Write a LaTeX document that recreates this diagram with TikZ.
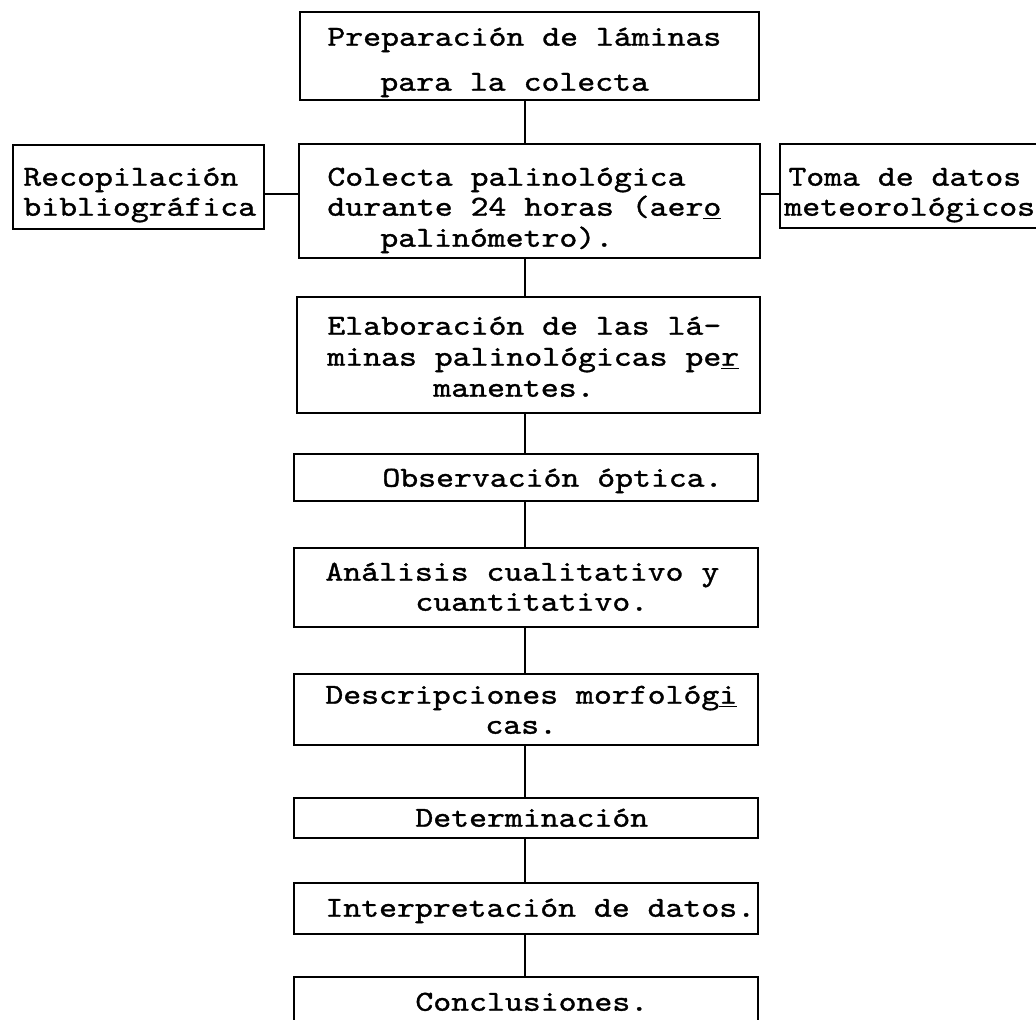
\documentclass[tikz,border=0pt]{standalone}
\usepackage{fontspec}
\newfontfamily\tw{lmmono10-regular.otf}[FakeBold=1.2, FakeStretch=1.176]
\usetikzlibrary{fit}
\begin{document}
\begin{tikzpicture}[x=0.5pt,y=-0.5pt,
  bx/.style={draw, line width=1.4pt, inner sep=0pt},
  ln/.style={anchor=west, inner sep=0pt, font=\tw\fontsize{14.5}{15}\selectfont, text height=8.7pt, text depth=0pt},
  cn/.style={line width=1.2pt}]
\clip (0,0) rectangle (1036,1019);
\fill[white] (0,0) rectangle (1036,1019);
% boxes
\node[bx, fit={(300,12) (759,100)}] (prep) {};
\node[bx, fit={(299,144) (760,258)}] (col) {};
\node[bx, fit={(13,145) (264,229)}] (rec) {};
\node[bx, fit={(780,144) (1070,228)}] (toma) {};
\node[bx, fit={(297,297) (760,413)}] (ela) {};
\node[bx, fit={(294,454) (758,501)}] (obs) {};
\node[bx, fit={(294,548) (758,627)}] (ana) {};
\node[bx, fit={(294,674) (758,745)}] (des) {};
\node[bx, fit={(294,798) (758,838)}] (det) {};
\node[bx, fit={(294,883) (758,934)}] (int) {};
\node[bx, fit={(294,977) (758,1070)}] (con) {};
% connectors
\coordinate (cx) at (525,0);
\coordinate (hy) at (0,194);
\draw[cn] (prep.south -| cx) -- (col.north -| cx);
\draw[cn] (col.south -| cx) -- (ela.north -| cx);
\draw[cn] (ela.south -| cx) -- (obs.north -| cx);
\draw[cn] (obs.south -| cx) -- (ana.north -| cx);
\draw[cn] (ana.south -| cx) -- (des.north -| cx);
\draw[cn] (des.south -| cx) -- (det.north -| cx);
\draw[cn] (det.south -| cx) -- (int.north -| cx);
\draw[cn] (int.south -| cx) -- (con.north -| cx);
\draw[cn] (rec.east |- hy) -- (col.west |- hy);
\draw[cn] (col.east |- hy) -- (toma.west |- hy);
% texts
\node[ln] (t1a) at (327,37) {Preparación de láminas};
\node[ln] (t1b) at (380,82) {para la colecta};
\node[ln] (t2a) at (327,177) {Colecta palinológica};
\node[ln] (t2b) at (327,207) {durante 24 horas (aer\underline{o}};
\node[ln] (t2c) at (380,238) {palinómetro).};
\node[ln] (t3a) at (23,177) {Recopilación};
\node[ln] (t3b) at (23,207) {bibliográfica};
\node[ln] (t4a) at (788,177) {Toma de datos};
\node[ln] (t4b) at (784,207) {meteorológicos};
\node[ln] (t5a) at (327,326) {Elaboración de las lá-};
\node[ln] (t5b) at (327,357) {minas palinológicas pe\underline{r}};
\node[ln] (t5c) at (433,388) {manentes.};
\node[ln] (t6a) at (382,478) {Observación óptica.};
\node[ln] (t7a) at (325,572) {Análisis cualitativo y};
\node[ln] (t7b) at (415,602) {cuantitativo.};
\node[ln] (t8a) at (325,695) {Descripciones morfológ\underline{i}};
\node[ln] (t8b) at (485,725) {cas.};
\node[ln] (t9a) at (415,818) {Determinación};
\node[ln] (t10a) at (325,908) {Interpretación de datos.};
\node[ln] (t11a) at (415,1002) {Conclusiones.};
\end{tikzpicture}
\end{document}
